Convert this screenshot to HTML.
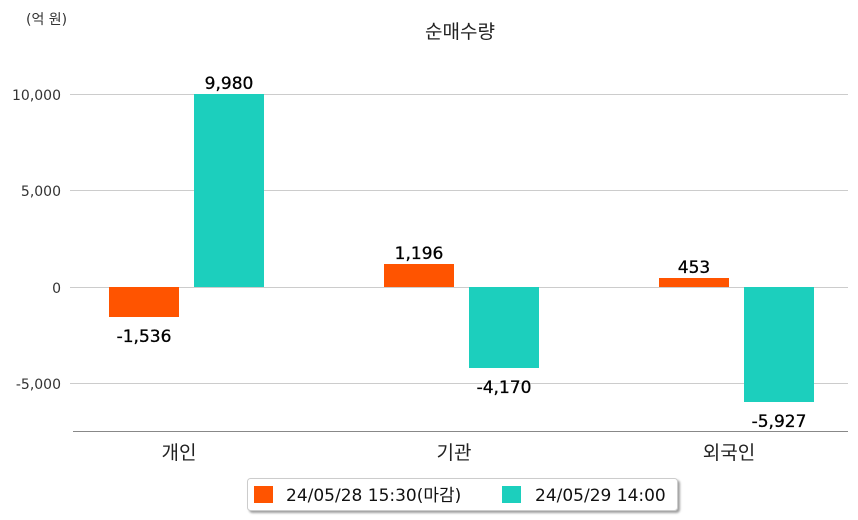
<!DOCTYPE html>
<html><head><meta charset="utf-8"><style>
body{margin:0;background:#fff;}
svg{display:block;font-family:"DejaVu Sans","Noto Sans CJK KR",sans-serif;}
</style></head><body>
<svg width="858" height="520" viewBox="0 0 858 520">
<defs><filter id="sh" x="-5%" y="-20%" width="110%" height="150%"><feDropShadow dx="2" dy="2" stdDeviation="1" flood-color="#777" flood-opacity="0.7"/></filter></defs>
<text x="26" y="24" font-size="14" fill="#333">(억 원)</text>
<text x="460" y="38" font-size="19" fill="#222" text-anchor="middle">순매수량</text>
<g stroke="#ccc" stroke-width="1">
<line x1="70" y1="94.5" x2="848" y2="94.5"/>
<line x1="70" y1="190.5" x2="848" y2="190.5"/>
<line x1="70" y1="287.5" x2="848" y2="287.5"/>
<line x1="70" y1="383.5" x2="848" y2="383.5"/>
</g>
<line x1="73" y1="431.5" x2="848" y2="431.5" stroke="#888" stroke-width="1"/>
<g font-size="14" fill="#333" text-anchor="end">
<text x="61" y="100">10,000</text>
<text x="61" y="196">5,000</text>
<text x="61" y="293">0</text>
<text x="61" y="389">-5,000</text>
</g>
<g fill="#ff5400">
<rect x="109" y="287" width="70" height="30"/>
<rect x="384" y="264" width="70" height="23"/>
<rect x="659" y="278" width="70" height="9"/>
</g>
<g fill="#1ccfbd">
<rect x="194" y="94" width="70" height="193"/>
<rect x="469" y="287" width="70" height="81"/>
<rect x="744" y="287" width="70" height="115"/>
</g>
<g font-size="17" fill="#000" stroke="#000" stroke-width="0.3" text-anchor="middle">
<text x="144" y="342">-1,536</text>
<text x="229" y="89">9,980</text>
<text x="419" y="259">1,196</text>
<text x="504" y="393">-4,170</text>
<text x="694" y="273">453</text>
<text x="779" y="427">-5,927</text>
</g>
<g font-size="19" fill="#222" text-anchor="middle">
<text x="179" y="459">개인</text>
<text x="454" y="459">기관</text>
<text x="729" y="459">외국인</text>
</g>
<rect x="247.5" y="478.5" width="430" height="32" rx="3" fill="#fff" stroke="#ccc" filter="url(#sh)"/>
<rect x="254" y="486" width="19" height="17" fill="#ff5400"/>
<text x="286" y="501" font-size="17" fill="#111">24/05/28 15:30(마감)</text>
<rect x="502" y="486" width="19" height="17" fill="#1ccfbd"/>
<text x="535" y="501" font-size="17" fill="#111">24/05/29 14:00</text>
</svg>
</body></html>
